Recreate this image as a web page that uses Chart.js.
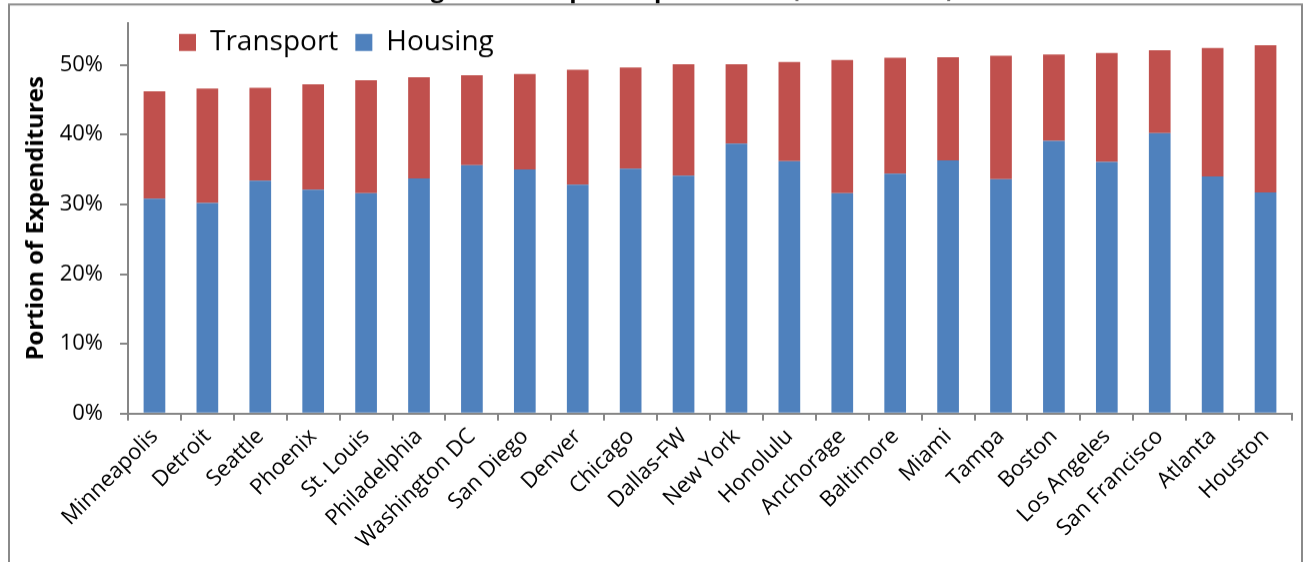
<!DOCTYPE html>
<html>
<head>
<meta charset="utf-8">
<script src="https://cdn.jsdelivr.net/npm/chart.js@4/dist/chart.umd.min.js"></script>
<style>
  html, body { margin: 0; padding: 0; background: #fff; overflow: hidden; }
  #wrap { position: absolute; left: 0; top: 0; width: 1304px; height: 700px; }
</style>
</head>
<body>
<div id="wrap"><canvas id="chart"></canvas></div>
<script>
const cities = ["Minneapolis", "Detroit", "Seattle", "Phoenix", "St. Louis", "Philadelphia",
    "Washington DC", "San Diego", "Denver", "Chicago", "Dallas-FW", "New York", "Honolulu",
    "Anchorage", "Baltimore", "Miami", "Tampa", "Boston", "Los Angeles", "San Francisco",
    "Atlanta", "Houston"];
// share of expenditures, percent
const housing = [30.8, 30.2, 33.4, 32.1, 31.6, 33.7, 35.6, 35.0, 32.8, 35.1, 34.1,
    38.7, 36.2, 31.6, 34.4, 36.3, 33.6, 39.1, 36.1, 40.2, 34.0, 31.7];
const transport = [15.4, 16.4, 13.3, 15.1, 16.2, 14.5, 12.9, 13.7, 16.5, 14.5, 16.0,
    11.4, 14.2, 19.1, 16.6, 14.8, 17.7, 12.4, 15.6, 11.9, 18.4, 21.1];
const yMax = 56;
const yStep = 10;

const FONT = "'Open Sans', 'Noto Sans', sans-serif";
const AXIS_GREY = "#868686";
const PLOT_TOP = 23;      // where the plot starts on the page
const PLOT_H = 390;
const XAXIS_H = 149;

// outer chart border (Excel chart area frame)
const framePlugin = {
    id: "frame",
    beforeDraw(chart) {
        let ctx = chart.ctx;
        let y = chart.chartArea.top - 18.5;
        ctx.save();
        ctx.strokeStyle = "#8a8a8a";
        ctx.lineWidth = 2;
        ctx.strokeRect(9, y, 1293, 800);
        ctx.restore();
    }
};

// legend sits inside the plot, top left, like Excel does it
const legendShift = {
    id: "legendShift",
    afterLayout(chart) {
        let lg = chart.legend;
        let dx = chart.chartArea.left + 34 - lg.left;
        let dy = chart.chartArea.top - 11.5 - lg.top;
        lg.left += dx; lg.right += dx;
        lg.top += dy; lg.bottom += dy;
    }
};

const wrap = document.getElementById("wrap");
const chart = new Chart(document.getElementById("chart").getContext("2d"), {
    type: "bar",
    data: {
        labels: cities,
        datasets: [
            { label: "Housing", data: housing, backgroundColor: "#4F81BD" },
            { label: "Transport", data: transport, backgroundColor: "#C0504D" }
        ]
    },
    options: {
        responsive: true,
        maintainAspectRatio: false,
        animation: false,
        layout: { padding: { left: 9, right: 12, top: 0, bottom: 0 } },
        datasets: { bar: { barPercentage: 0.41, categoryPercentage: 1.0, borderWidth: 0 } },
        plugins: {
            tooltip: { enabled: false },
            title: {
                display: true,
                text: "Housing and Transport Expenditures (% of Income)",
                color: "#000",
                font: { family: FONT, size: 24, weight: "bold" },
                padding: { top: 0, bottom: 18 }
            },
            legend: {
                position: "top",
                weight: 3000,
                align: "start",
                reverse: true,
                labels: {
                    color: "#000",
                    font: { family: FONT, size: 28 },
                    boxWidth: 17,
                    boxHeight: 17,
                    padding: 17
                }
            }
        },
        scales: {
            x: {
                stacked: true,
                border: { display: true, color: AXIS_GREY, width: 2 },
                grid: { drawOnChartArea: false, drawTicks: true, tickLength: 7, color: AXIS_GREY, lineWidth: 2 },
                ticks: {
                    color: "#000",
                    autoSkip: false,
                    maxRotation: 45,
                    minRotation: 45,
                    padding: 3,
                    font: { family: FONT, size: 22 }
                },
                afterFit(scale) { scale.height = XAXIS_H; }
            },
            y: {
                stacked: true,
                min: 0,
                max: yMax,
                border: { display: true, color: AXIS_GREY, width: 2 },
                grid: { drawOnChartArea: false, drawTicks: true, tickLength: 8, color: AXIS_GREY, lineWidth: 2 },
                ticks: {
                    stepSize: yStep,
                    includeBounds: false,
                    color: "#000",
                    padding: 17,
                    font: { family: FONT, size: 22 },
                    callback: v => v + "%"
                },
                title: {
                    display: true,
                    text: "Portion of Expenditures",
                    color: "#000",
                    font: { family: FONT, size: 24, weight: "bold" },
                    padding: { top: 13, bottom: 0 }
                },
                afterFit(scale) { scale.width = 119; }
            }
        }
    },
    plugins: [framePlugin, legendShift]
});

// slide the canvas up so the title is mostly cut off, as in the original image
let areaTop = chart.chartArea.top;
wrap.style.top = (PLOT_TOP - areaTop) + "px";
wrap.style.height = (areaTop + PLOT_H + XAXIS_H) + "px";
chart.resize();
</script>
</body>
</html>
